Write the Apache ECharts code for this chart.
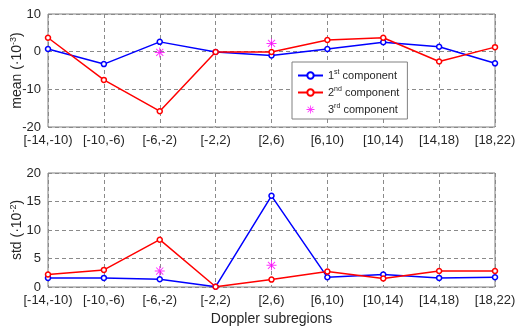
<!DOCTYPE html>
<html>
<head>
  <meta charset="UTF-8" />
  <script src="https://cdn.jsdelivr.net/npm/echarts@6/dist/echarts.min.js"></script>
  <style>
    html, body { margin: 0; padding: 0; background: #fff; }
    #chart { width: 516px; height: 326px; }
  </style>
</head>
<body>
  <div id="chart"></div>
  <script>
    const regions = ['[-14,-10)', '[-10,-6)', '[-6,-2)', '[-2,2)', '[2,6)', '[6,10)', '[10,14)', '[14,18)', '[18,22)'];

    // mean (x10^-3)
    const mean1 = [0.7, -3.3, 2.6, -0.1, -1.0, 0.7, 2.5, 1.3, -3.1];
    const mean2 = [3.7, -7.5, -15.8, -0.1, -0.1, 3.1, 3.7, -2.6, 1.2];
    const mean3 = [[2, -0.2], [4, 2.2]];

    // std (x10^-2)
    const std1 = [1.6, 1.6, 1.35, 0.05, 16.0, 1.7, 2.2, 1.6, 1.7];
    const std2 = [2.2, 3.0, 8.3, 0.05, 1.3, 2.7, 1.5, 2.8, 2.8];
    const std3 = [[2, 2.8], [4, 3.8]];

    const FONT = 'Liberation Sans, Arial, sans-serif';
    const BLUE = '#0000ff', RED = '#ff0000', MAG = '#ff00ff';
    const STAR = 'path://M0,9L20,9L20,11L0,11Z M9,0L11,0L11,20L9,20Z M2.2,3.6L3.6,2.2L17.8,16.4L16.4,17.8Z M16.4,2.2L17.8,3.6L3.6,17.8L2.2,16.4Z';

    const chart = echarts.init(document.getElementById('chart'));

    const gridLine = { show: true, lineStyle: { color: '#8a8a8a', type: [4, 3], width: 1 } };
    const labelStyle = { color: '#262626', fontSize: 13, fontFamily: FONT };
    const supRich = {
      a: { fontSize: 14, fontFamily: FONT, color: '#262626' },
      s: { fontSize: 9, fontFamily: FONT, color: '#262626', padding: [0, 0, 8, 0] }
    };

    function xAxis(idx, name) {
      return {
        type: 'category', gridIndex: idx, data: regions, boundaryGap: false,
        axisLine: { show: false }, axisTick: { show: false },
        axisLabel: Object.assign({ margin: 7, interval: 0, hideOverlap: false }, labelStyle),
        splitLine: gridLine,
        name: name || '', nameLocation: 'middle', nameGap: 25, nameMoveOverlap: false,
        nameTextStyle: { fontSize: 14, fontFamily: FONT, color: '#262626' }
      };
    }
    function yAxis(idx, min, max, interval, nm, exp) {
      return {
        type: 'value', gridIndex: idx, min: min, max: max, interval: interval,
        axisLine: { show: false }, axisTick: { show: false },
        axisLabel: Object.assign({ margin: 7 }, labelStyle),
        splitLine: gridLine,
        name: '{a|' + nm + ' (·10}{s|' + exp + '}{a|)}',
        nameLocation: 'middle', nameRotate: 90, nameGap: 22, nameMoveOverlap: false,
        nameTextStyle: { rich: supRich }
      };
    }
    function lineSeries(name, data, color, xi, yi) {
      return {
        name: name, type: 'line', data: data, xAxisIndex: xi, yAxisIndex: yi,
        symbol: 'circle', symbolSize: 5, showSymbol: true,
        itemStyle: { color: '#fff', borderColor: color, borderWidth: 1.5 },
        lineStyle: { color: color, width: 1.5 },
        emphasis: { disabled: true }, animation: false
      };
    }
    function starSeries(name, data, xi, yi) {
      return {
        name: name, type: 'scatter', data: data, xAxisIndex: xi, yAxisIndex: yi,
        symbol: STAR, symbolSize: 10, itemStyle: { color: MAG }, animation: false
      };
    }

    const sup = { '1st component': ['1', 'st'], '2nd component': ['2', 'nd'], '3rd component': ['3', 'rd'] };

    chart.setOption({
      animation: false,
      grid: [
        { left: 48, top: 14, width: 447, height: 113, show: true, borderColor: '#808080', borderWidth: 1, outerBoundsMode: 'none', containLabel: false },
        { left: 48, top: 173, width: 447, height: 114, show: true, borderColor: '#808080', borderWidth: 1, outerBoundsMode: 'none', containLabel: false }
      ],
      xAxis: [xAxis(0), xAxis(1, 'Doppler subregions')],
      yAxis: [yAxis(0, -20, 10, 10, 'mean', '-3'), yAxis(1, 0, 20, 5, 'std', '-2')],
      legend: {
        data: ['1st component', '2nd component', '3rd component'],
        orient: 'vertical', left: 292, top: 62,
        backgroundColor: '#fff', borderColor: '#808080', borderWidth: 1,
        padding: [7, 8, 4, 5], itemGap: 5, itemWidth: 25, itemHeight: 8,
        formatter: function (n) {
          const p = sup[n];
          return '{a|' + p[0] + '}{s|' + p[1] + '}{a| component}';
        },
        textStyle: {
          rich: {
            a: { fontSize: 11, fontFamily: FONT, color: '#262626' },
            s: { fontSize: 7, fontFamily: FONT, color: '#262626', padding: [0, 0, 6, 0] }
          }
        }
      },
      series: [
        lineSeries('1st component', mean1, BLUE, 0, 0),
        lineSeries('2nd component', mean2, RED, 0, 0),
        starSeries('3rd component', mean3, 0, 0),
        lineSeries('1st component', std1, BLUE, 1, 1),
        lineSeries('2nd component', std2, RED, 1, 1),
        starSeries('3rd component', std3, 1, 1)
      ]
    });
  </script>
</body>
</html>
